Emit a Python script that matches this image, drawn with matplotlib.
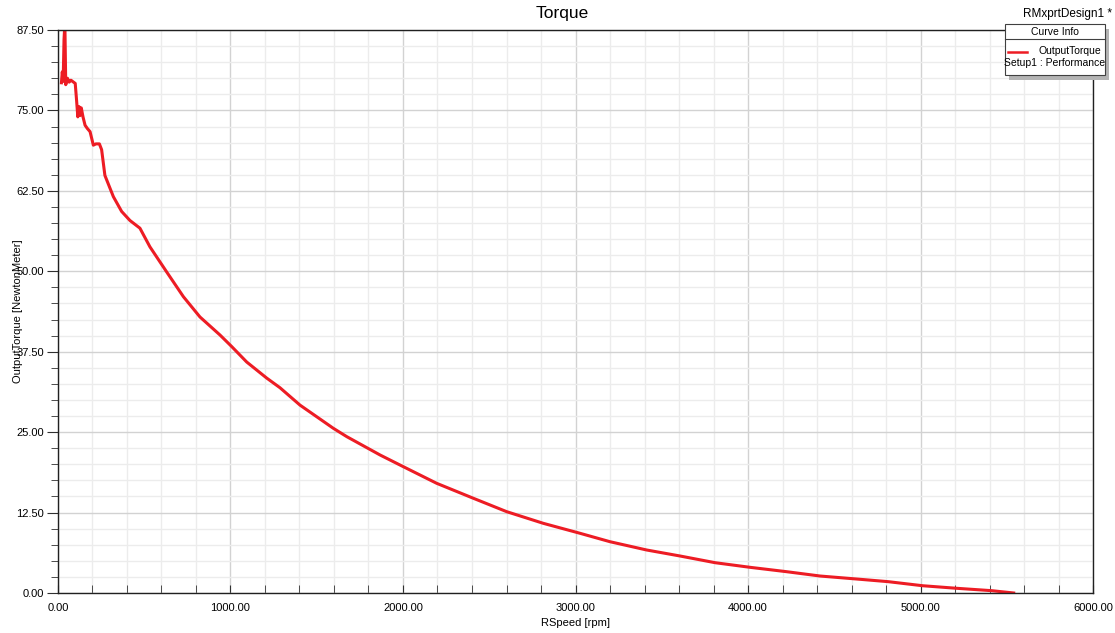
import numpy as np
import matplotlib.pyplot as plt
from matplotlib.patches import Rectangle
from matplotlib.lines import Line2D

plt.rcParams['font.family'] = ['Liberation Sans', 'DejaVu Sans']

# speed [rpm] and output torque [N.m]
rpm = [20, 25, 30, 35, 40, 45, 55, 65, 75, 90, 100, 108, 115, 122, 128, 135, 145,
       157, 170, 186, 205, 220, 240, 253, 272, 321, 369, 417, 475, 533, 630,
       727, 823, 939, 1007, 1094, 1210, 1287, 1403, 1596, 1674, 1867, 2002,
       2195, 2408, 2601, 2813, 3026, 3200, 3413, 3606, 3809, 4012, 4224, 4417,
       4649, 4813, 5012, 5210, 5413, 5540]
torque = [79.3, 81.0, 79.5, 86.0, 88.5, 79.0, 80.0, 79.4, 79.7, 79.4, 79.2, 76.5,
          74.0, 75.6, 74.2, 75.4, 74.0, 72.7, 72.2, 71.7, 69.6, 69.8, 69.8, 68.9,
          64.9, 61.6, 59.3, 57.9, 56.7, 53.8, 49.9, 46.05, 42.9, 40.1, 38.3, 35.9,
          33.4, 31.9, 29.2, 25.6, 24.3, 21.45, 19.63, 17.05, 14.72, 12.64, 10.83,
          9.28, 7.97, 6.68, 5.75, 4.71, 3.99, 3.31, 2.64, 2.13, 1.76, 1.13, 0.73,
          0.36, 0.0]

xticks = [0, 1000, 2000, 3000, 4000, 5000, 6000]
yticks = [0, 12.5, 25, 37.5, 50, 62.5, 75, 87.5]

fig = plt.figure(figsize=(11.15, 6.33), dpi=100)
ax = fig.add_axes([0.052, 0.0632, 0.9283, 0.8894])

ax.plot(rpm, torque, color='#ED1C24', lw=2.2, solid_joinstyle='round')
ax.set_xlim(0, 6000)
ax.set_ylim(0, 87.5)
ax.set_xticks(xticks)
ax.set_xticklabels(['%.2f' % v for v in xticks])
ax.set_yticks(yticks)
ax.set_yticklabels(['%.2f' % v for v in yticks])
ax.set_xticks(np.arange(0, 6001, 200), minor=True)
ax.set_yticks(np.arange(0, 87.6, 2.5), minor=True)

ax.grid(which='major', color='#D2D2D2', lw=1.0)
ax.grid(which='minor', color='#ECECEC', lw=1.0)
ax.set_axisbelow(True)

ax.tick_params(axis='x', which='both', direction='in', length=6, labelsize=8, pad=7,
               color='#303030')
ax.tick_params(axis='y', which='major', direction='out', length=8, labelsize=8, pad=2,
               color='#303030')
ax.tick_params(axis='y', which='minor', direction='out', length=5, color='#303030')
for s in ax.spines.values():
    s.set_linewidth(1.0)
    s.set_color('#202020')

fig.text(0.504, 0.978, 'Torque', ha='center', va='center', fontsize=12.5)
ax.set_xlabel('RSpeed [rpm]', fontsize=8, labelpad=4)
ax.set_ylabel('OutputTorque [NewtonMeter]', fontsize=8)
ax.yaxis.set_label_coords(-0.034, 0.5)

# design name and curve info box
fig.text(0.9975, 0.978, 'RMxprtDesign1 *', ha='right', va='center', fontsize=8.5)
bx, by, bw, bh = 0.9013, 0.881, 0.0897, 0.081
fig.patches.append(Rectangle((bx + 0.004, by - 0.008), bw, bh, transform=fig.transFigure,
                             facecolor='#B4B4B4', edgecolor='none', zorder=5))
fig.patches.append(Rectangle((bx, by), bw, bh, transform=fig.transFigure,
                             facecolor='white', edgecolor='#404040', lw=0.8, zorder=6))
fig.lines.append(Line2D([bx, bx + bw], [by + bh - 0.024, by + bh - 0.024],
                        transform=fig.transFigure, color='#404040', lw=0.8, zorder=7))
fig.text(bx + bw / 2, by + bh - 0.012, 'Curve Info', ha='center', va='center',
         fontsize=7.5, zorder=8)
fig.lines.append(Line2D([bx + 0.003, bx + 0.02], [by + 0.037, by + 0.037],
                        transform=fig.transFigure, color='#ED1C24', lw=1.8, zorder=8))
fig.text(bx + 0.0865, by + 0.038, 'OutputTorque', ha='right', va='center',
         fontsize=7.5, zorder=8)
fig.text(bx + bw / 2, by + 0.019, 'Setup1 : Performance', ha='center', va='center',
         fontsize=7.5, zorder=8)

plt.savefig('out.png', dpi=100)
